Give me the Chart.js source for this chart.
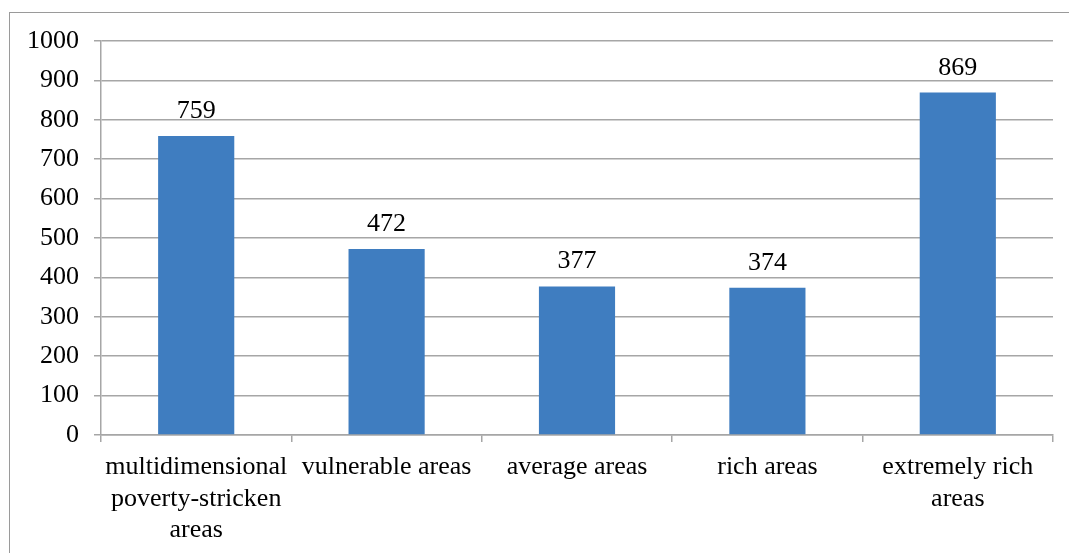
<!DOCTYPE html>
<html>
<head>
<meta charset="utf-8">
<script src="https://cdn.jsdelivr.net/npm/chart.js@4"></script>
<style>
  html, body { margin: 0; padding: 0; background: #fff; }
  #wrap { position: relative; width: 1069px; height: 553px; overflow: hidden; }
  #frame {
    position: absolute; left: 9px; top: 12px; width: 1100px; height: 600px;
    border-left: 1px solid #9a9a9a; border-top: 1px solid #9a9a9a;
  }
  #chart { position: absolute; left: 0; top: 0; }
  .probe { font-family: 'Liberation Serif'; position: absolute; left: -999px; }
</style>
</head>
<body>
<div id="wrap">
  <div id="frame"></div>
  <canvas id="chart" width="1069" height="553"></canvas>
</div>
<span class="probe">0</span>
<script>
// Categories and counts
const categories = [
  ['multidimensional', 'poverty-stricken', 'areas'],
  'vulnerable areas',
  'average areas',
  'rich areas',
  ['extremely rich', 'areas']
];
const counts = [759, 472, 377, 374, 869];
const yTicks = [0, 100, 200, 300, 400, 500, 600, 700, 800, 900, 1000];

const FONT = { family: "'Liberation Serif', 'Times New Roman', serif", size: 26, lineHeight: 1.2 };
const GRID = '#a6a6a6';

// Numbers above each bar
const valueLabels = {
  id: 'valueLabels',
  afterDatasetsDraw(chart) {
    const ctx = chart.ctx;
    const meta = chart.getDatasetMeta(0);
    ctx.save();
    ctx.font = `${FONT.size}px ${FONT.family}`;
    ctx.fillStyle = '#000';
    ctx.textAlign = 'center';
    ctx.textBaseline = 'alphabetic';
    meta.data.forEach((bar, i) => {
      ctx.fillText(String(counts[i]), bar.x, bar.y - 18);
    });
    ctx.restore();
  }
};

function drawChart() {
  new Chart(document.getElementById('chart'), {
    type: 'bar',
    data: {
      labels: categories,
      datasets: [{
        data: counts,
        backgroundColor: '#3f7dc0',
        barPercentage: 0.4,
        categoryPercentage: 1
      }]
    },
    options: {
      responsive: false,
      animation: false,
      devicePixelRatio: 1,
      layout: { padding: { left: 0, top: 41, right: 16, bottom: 0 } },
      plugins: {
        legend: { display: false },
        tooltip: { enabled: false }
      },
      scales: {
        x: {
          grid: {
            offset: true,
            drawOnChartArea: false,
            drawTicks: true,
            tickLength: 7,
            color: GRID,
            lineWidth: 1.5
          },
          border: { color: GRID, width: 1.5 },
          ticks: {
            color: '#000',
            font: FONT,
            padding: 10,
            maxRotation: 0,
            autoSkip: false
          },
          afterFit(scale) { scale.height = 118; }
        },
        y: {
          min: 0,
          max: 1000,
          afterBuildTicks(scale) { scale.ticks = yTicks.map(v => ({ value: v })); },
          grid: {
            color: GRID,
            lineWidth: 1.5,
            drawTicks: true,
            tickLength: 7
          },
          border: { color: GRID, width: 1.5 },
          ticks: {
            color: '#000',
            font: FONT,
            padding: 15,
            callback: v => String(v)
          },
          afterFit(scale) { scale.width = 101; }
        }
      }
    },
    plugins: [valueLabels]
  });
}

// make sure the serif face is ready before the canvas text is drawn
document.fonts.load("26px 'Liberation Serif'").then(drawChart, drawChart);
</script>
</body>
</html>
